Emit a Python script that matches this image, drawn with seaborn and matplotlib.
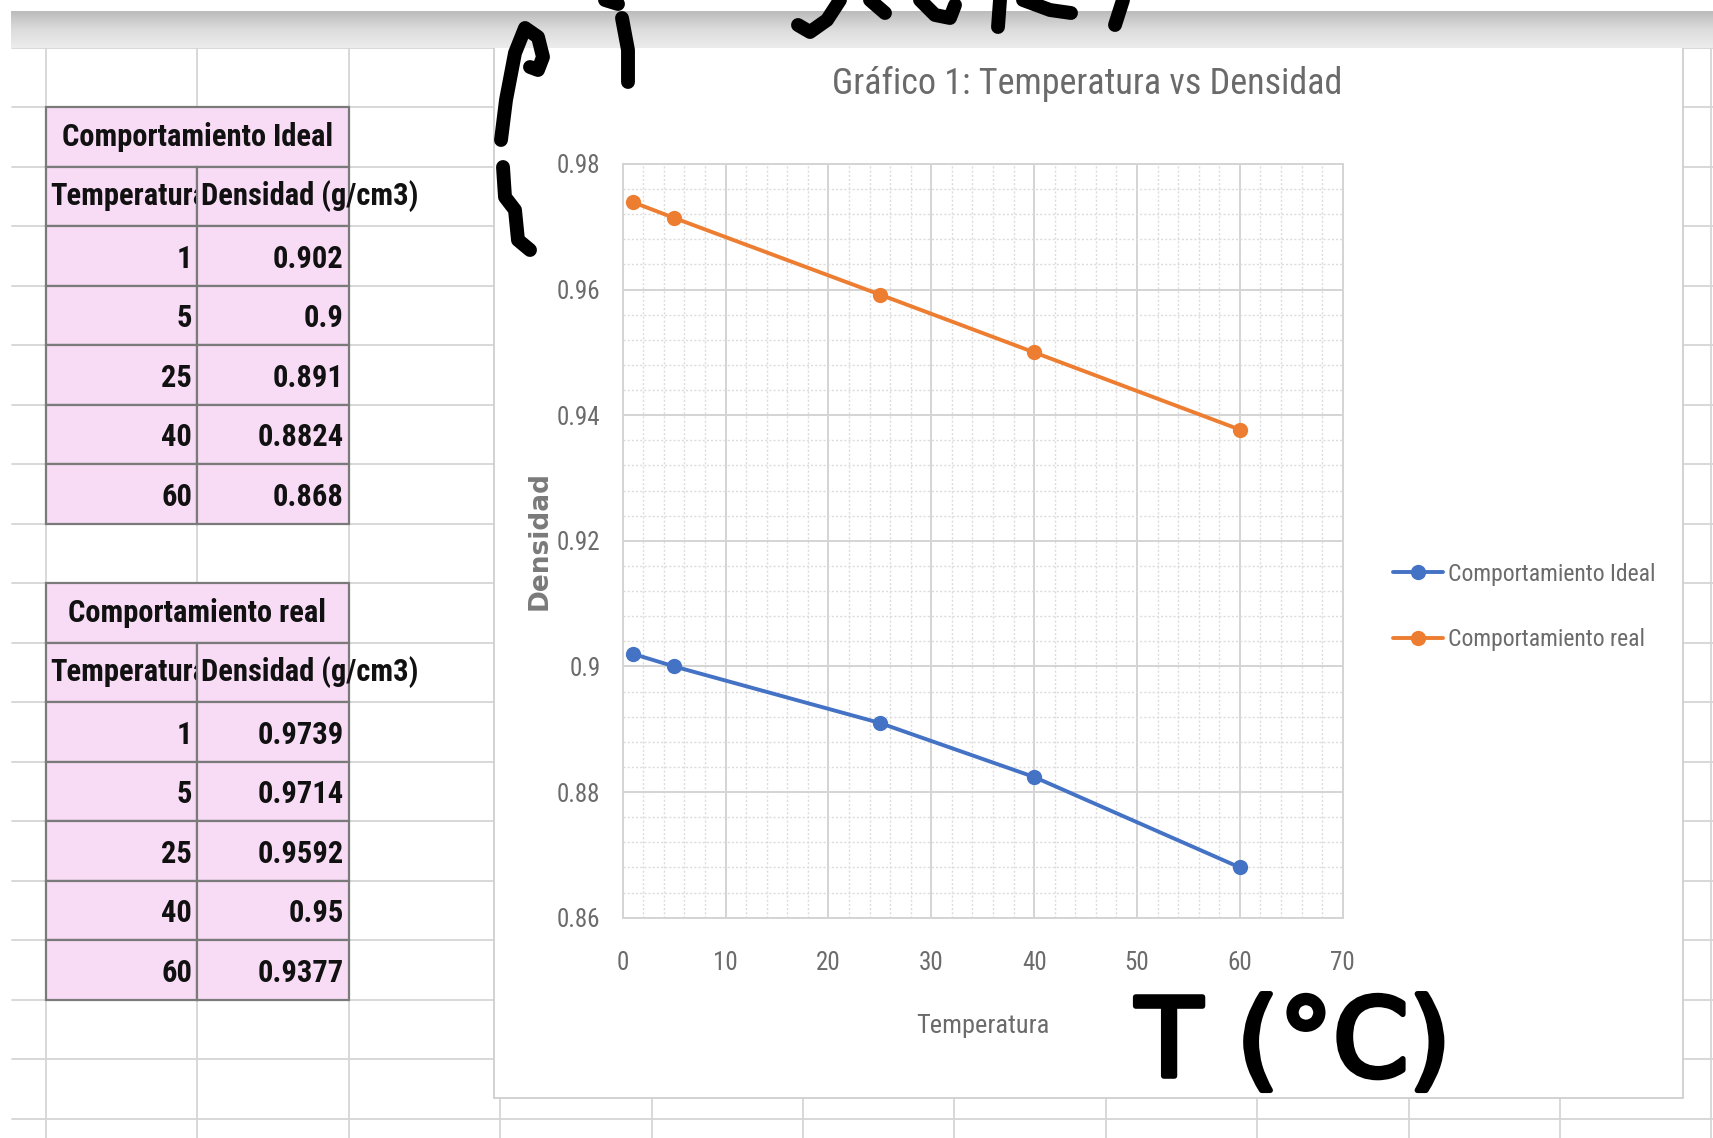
import numpy as np
import pandas as pd
import matplotlib
matplotlib.use("Agg")
import matplotlib.pyplot as plt
import matplotlib.patheffects as pe
from matplotlib import font_manager
from matplotlib.lines import Line2D
from matplotlib.patches import Rectangle
from matplotlib.ticker import MultipleLocator
import seaborn as sns

# ---- data -------------------------------------------------------------
temperatura = [1, 5, 25, 40, 60]
densidad_ideal = [0.902, 0.9, 0.891, 0.8824, 0.868]
densidad_real = [0.9739, 0.9714, 0.9592, 0.95, 0.9377]
series = ["Comportamiento Ideal", "Comportamiento real"]
x_ticks = [0, 10, 20, 30, 40, 50, 60, 70]
y_ticks = [0.86, 0.88, 0.9, 0.92, 0.94, 0.96, 0.98]
col_headers = ["Temperatura", "Densidad (g/cm3)"]
titulo = "Gráfico 1: Temperatura vs Densidad"

# ---- fonts ------------------------------------------------------------
sns.set_theme(style="white")
available = {f.name for f in font_manager.fontManager.ttflist}


def pick(*names):
    for n in names:
        if n in available:
            return n
    return "DejaVu Sans"


NARROW = pick("Liberation Sans Narrow", "DejaVu Sans Condensed",
              "Roboto Condensed", "Open Sans Condensed", "Liberation Sans")
plt.rcParams["font.family"] = [NARROW, "DejaVu Sans"]

W, H = 1713, 1138
fig = plt.figure(figsize=(W / 100, H / 100), dpi=100)
fig.patch.set_facecolor("white")


def fx(x):
    return x / W


def fy(y):
    return 1 - y / H


# ---- spreadsheet background ------------------------------------------
GRID = "#d6d6d6"
row0, row_h = 107.1, 59.5
col0, col_w = 45.9, 151.4
for k in range(-1, 18):
    y = row0 + row_h * k
    fig.add_artist(Line2D([fx(12), fx(W)], [fy(y), fy(y)], color=GRID,
                          lw=1.3, zorder=0.2))
for k in range(0, 12):
    x = col0 + col_w * k
    fig.add_artist(Line2D([fx(x), fx(x)], [fy(48), fy(H)], color=GRID,
                          lw=1.3, zorder=0.2))

# header band across the top
band = fig.add_axes([fx(11), fy(48), fx(W - 11), (48 - 11) / H], zorder=8)
grad = np.linspace(0, 1, 50)[:, None]
band.imshow(grad, cmap=matplotlib.colors.LinearSegmentedColormap.from_list(
    "band", ["#bcbcbc", "#dcdcdc", "#ececec"]), aspect="auto",
    extent=[0, 1, 0, 1])
band.set_axis_off()

# chart container
fig.add_artist(Rectangle((fx(494), fy(1098)), fx(1682.5 - 494), (1098 - 40) / H,
                         transform=fig.transFigure, facecolor="white",
                         edgecolor="#cfcfcf", lw=1.3, zorder=0.5))

# ---- data tables ------------------------------------------------------
PINK = "#f8dcf6"
BORDER = "#7a7a7a"
c_left, c_mid, c_right = col0, col0 + col_w, col0 + 2 * col_w
TFS = 22


def cell(x0, y0, x1, y1):
    fig.add_artist(Rectangle((fx(x0), fy(y1)), fx(x1 - x0), (y1 - y0) / H,
                             transform=fig.transFigure, facecolor=PINK,
                             edgecolor=BORDER, lw=1.6, zorder=1))


def table(top_row, title, dens):
    y = row0 + row_h * top_row
    cell(c_left, y, c_right, y + row_h)
    fig.text(fx((c_left + c_right) / 2), fy(y + row_h / 2), title,
             ha="center", va="center", fontsize=TFS, fontweight="bold",
             color="#111111", zorder=3)
    y += row_h
    cell(c_left, y, c_mid, y + row_h)
    cell(c_mid, y, c_right, y + row_h)
    t = fig.text(fx(c_left + 4), fy(y + row_h / 2), col_headers[0],
                 ha="left", va="center", fontsize=TFS, fontweight="bold",
                 color="#111111", zorder=3)
    t.set_clip_path(Rectangle((fx(c_left), fy(y + row_h)), fx(c_mid - c_left - 1),
                              row_h / H, transform=fig.transFigure))
    fig.text(fx(c_mid + 4), fy(y + row_h / 2), col_headers[1],
             ha="left", va="center", fontsize=TFS, fontweight="bold",
             color="#111111", zorder=3)
    for tmp, d in zip(temperatura, dens):
        y += row_h
        cell(c_left, y, c_mid, y + row_h)
        cell(c_mid, y, c_right, y + row_h)
        fig.text(fx(c_mid - 5), fy(y + row_h / 2 + 3), f"{tmp:g}", ha="right",
                 va="center", fontsize=TFS, fontweight="bold",
                 color="#111111", zorder=3)
        fig.text(fx(c_right - 5), fy(y + row_h / 2 + 3), f"{d:g}", ha="right",
                 va="center", fontsize=TFS, fontweight="bold",
                 color="#111111", zorder=3)


table(0, series[0], densidad_ideal)
table(8, series[1], densidad_real)

# ---- chart ------------------------------------------------------------
BLUE, ORANGE = "#4472C4", "#ED7D31"
TXT = "#6b6b6b"
ax_l, ax_r, ax_t, ax_b = 622.7, 1342.7, 163.9, 917.7
ax = fig.add_axes([fx(ax_l), fy(ax_b), fx(ax_r - ax_l), (ax_b - ax_t) / H],
                  zorder=5)
ax.set_facecolor("white")

df = pd.DataFrame({
    "Temperatura": temperatura * 2,
    "Densidad": densidad_ideal + densidad_real,
    "Serie": [series[0]] * len(temperatura) + [series[1]] * len(temperatura),
})
sns.lineplot(data=df, x="Temperatura", y="Densidad", hue="Serie",
             palette=[BLUE, ORANGE], marker="o", markersize=11,
             markeredgewidth=0, linewidth=2.8, sort=False, ax=ax, zorder=4)
handles, labels = ax.get_legend_handles_labels()
ax.get_legend().remove()

ax.set_xlim(0, 70)
ax.set_ylim(0.86, 0.98)
ax.set_xticks(x_ticks)
ax.set_xticklabels([f"{v:g}" for v in x_ticks])
ax.set_yticks(y_ticks)
ax.set_yticklabels([f"{v:g}" for v in y_ticks])
ax.xaxis.set_minor_locator(MultipleLocator(2))
ax.yaxis.set_minor_locator(MultipleLocator(0.004))
ax.grid(which="major", color="#d4d4d4", lw=1.4, linestyle="-")
ax.grid(which="minor", color="#dcdcdc", lw=1.0, linestyle=(0, (1.5, 1.5)))
ax.set_axisbelow(True)
for sp in ax.spines.values():
    sp.set_color("#d4d4d4")
    sp.set_linewidth(1.4)
ax.tick_params(axis="both", which="both", length=0, labelsize=18,
               labelcolor=TXT)
ax.tick_params(axis="x", pad=24)
ax.tick_params(axis="y", pad=16)

ax.set_xlabel("Temperatura", fontsize=19, color=TXT)
ax.xaxis.set_label_coords(0.5, -0.128)
ax.set_ylabel("Densidad", fontsize=19, color="#7a7a7a", family="DejaVu Sans",
              fontweight="bold")
ax.yaxis.set_label_coords(-0.097, 0.5)

fig.text(fx(1087), fy(84), titulo, ha="center", va="center", fontsize=26,
         color="#6a6a6a", zorder=6)

fig.legend(handles, labels, loc="center left",
           bbox_to_anchor=(fx(1393), fy(607)), frameon=False, fontsize=17,
           handlelength=2.1, handletextpad=0.25, labelspacing=1.8,
           borderpad=0, borderaxespad=0, labelcolor=TXT)

# ---- handwritten notes ------------------------------------------------
INK = dict(color="black", lw=10, solid_capstyle="round",
           solid_joinstyle="round", zorder=12)
strokes = [
    [(501, 140), (506, 100), (515, 53), (525, 28), (538, 37), (543, 57),
     (538, 70), (530, 67)],
    [(503, 167), (505, 197), (515, 210), (518, 240), (530, 250)],
    [(622, 18), (628, 50), (628, 82)],
    [(605, 0), (618, 4)],
    [(840, 0), (827, 20), (810, 32), (798, 25)],
    [(870, 0), (885, 13)],
    [(920, 0), (935, 15), (950, 18), (955, 5)],
    [(1000, 0), (998, 27)],
    [(1023, 0), (1050, 10), (1071, 13)],
    [(1123, 0), (1115, 25)],
]
for s in strokes:
    xs, ys = zip(*s)
    fig.add_artist(Line2D([fx(x) for x in xs], [fy(y) for y in ys], **INK))

fig.text(fx(1136), fy(1076), "T (°C)", ha="left", va="baseline",
         fontsize=78, family="DejaVu Sans", color="black", zorder=12,
         path_effects=[pe.withStroke(linewidth=4, foreground="black")])

fig.savefig("out.png", dpi=100, facecolor="white")
